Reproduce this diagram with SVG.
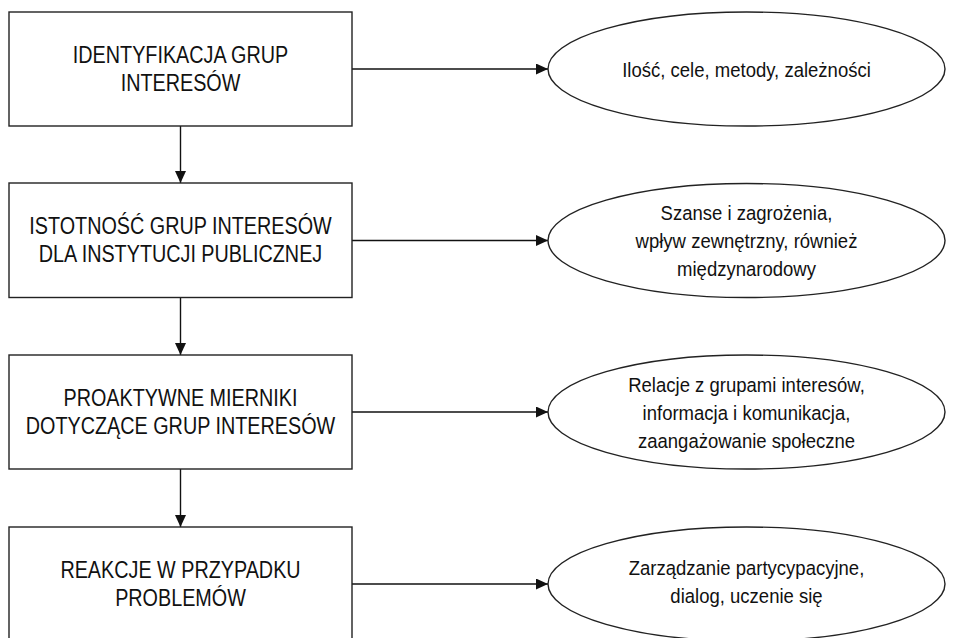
<svg xmlns="http://www.w3.org/2000/svg" width="953" height="638" viewBox="0 0 953 638">
<defs>
<style>
.box{fill:#fff;stroke:#222;stroke-width:1.4}
.ell{fill:#fff;stroke:#222;stroke-width:1.4}
.lt{font-family:"Liberation Sans",Arial,sans-serif;font-size:23px;fill:#111;text-anchor:middle}
.rt{font-family:"Liberation Sans",Arial,sans-serif;font-size:19.5px;fill:#111;text-anchor:middle}
.con{stroke:#111;stroke-width:1.4;fill:none}
</style>
<marker id="ah" markerWidth="12" markerHeight="11" refX="12" refY="5.5" orient="auto" markerUnits="userSpaceOnUse">
<path d="M0,0 L12,5.5 L0,11 Z" fill="#111"/>
</marker>
</defs>
<rect width="953" height="638" fill="#fff"/>
<g id="connectors">
<line class="con" x1="180.5" y1="126" x2="180.5" y2="183" marker-end="url(#ah)"/>
<line class="con" x1="180.5" y1="297.5" x2="180.5" y2="355" marker-end="url(#ah)"/>
<line class="con" x1="180.5" y1="469" x2="180.5" y2="527" marker-end="url(#ah)"/>
<line class="con" x1="352" y1="69" x2="548" y2="69" marker-end="url(#ah)"/>
<line class="con" x1="352" y1="240.5" x2="548" y2="240.5" marker-end="url(#ah)"/>
<line class="con" x1="352" y1="412" x2="548" y2="412" marker-end="url(#ah)"/>
<line class="con" x1="352" y1="584" x2="548" y2="584" marker-end="url(#ah)"/>
</g>
<g id="n1">
<rect class="box" x="9" y="12" width="343" height="114"/>
<g transform="translate(180.5 0) scale(0.86 1)">
<text class="lt" x="0" y="63">IDENTYFIKACJA GRUP</text>
<text class="lt" x="0" y="91">INTERESÓW</text>
</g>
</g>
<g id="n2">
<rect class="box" x="9" y="183" width="343" height="114.5"/>
<g transform="translate(180.5 0) scale(0.86 1)">
<text class="lt" x="0" y="234">ISTOTNOŚĆ GRUP INTERESÓW</text>
<text class="lt" x="0" y="262">DLA INSTYTUCJI PUBLICZNEJ</text>
</g>
</g>
<g id="n3">
<rect class="box" x="9" y="355" width="343" height="114"/>
<g transform="translate(180.5 0) scale(0.86 1)">
<text class="lt" x="0" y="406">PROAKTYWNE MIERNIKI</text>
<text class="lt" x="0" y="434">DOTYCZĄCE GRUP INTERESÓW</text>
</g>
</g>
<g id="n4">
<rect class="box" x="9" y="527" width="343" height="114"/>
<g transform="translate(180.5 0) scale(0.86 1)">
<text class="lt" x="0" y="578">REAKCJE W PRZYPADKU</text>
<text class="lt" x="0" y="606">PROBLEMÓW</text>
</g>
</g>
<g id="e1">
<ellipse class="ell" cx="746.5" cy="69" rx="198.5" ry="57"/>
<g transform="translate(746.5 0) scale(0.95 1)">
<text class="rt" x="0" y="77">Ilość, cele, metody, zależności</text>
</g>
</g>
<g id="e2">
<ellipse class="ell" cx="746.5" cy="240.5" rx="198.5" ry="57"/>
<g transform="translate(746.5 0) scale(0.95 1)">
<text class="rt" x="0" y="220">Szanse i zagrożenia,</text>
<text class="rt" x="0" y="248">wpływ zewnętrzny, również</text>
<text class="rt" x="0" y="276">międzynarodowy</text>
</g>
</g>
<g id="e3">
<ellipse class="ell" cx="746.5" cy="412" rx="198.5" ry="57"/>
<g transform="translate(746.5 0) scale(0.95 1)">
<text class="rt" x="0" y="392">Relacje z grupami interesów,</text>
<text class="rt" x="0" y="420">informacja i komunikacja,</text>
<text class="rt" x="0" y="448">zaangażowanie społeczne</text>
</g>
</g>
<g id="e4">
<ellipse class="ell" cx="746.5" cy="584" rx="198.5" ry="57"/>
<g transform="translate(746.5 0) scale(0.95 1)">
<text class="rt" x="0" y="575">Zarządzanie partycypacyjne,</text>
<text class="rt" x="0" y="603">dialog, uczenie się</text>
</g>
</g>
</svg>
